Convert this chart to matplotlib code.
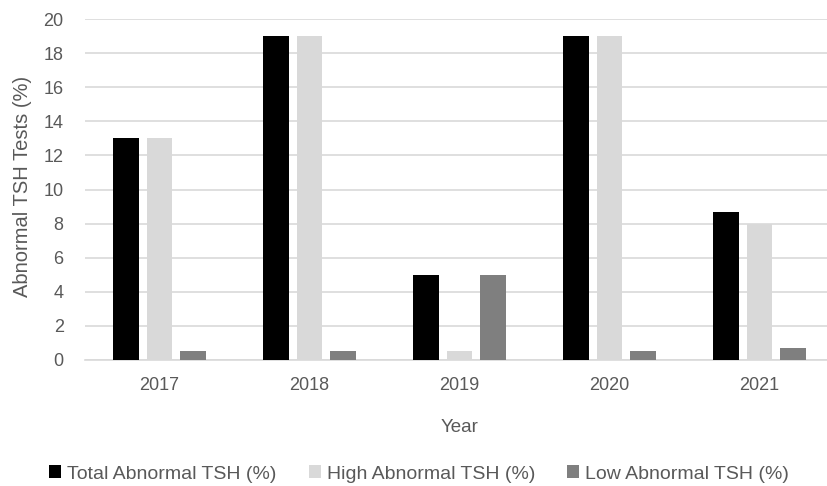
import matplotlib
matplotlib.use("Agg")
import matplotlib.pyplot as plt
import numpy as np

years = ["2017", "2018", "2019", "2020", "2021"]
total_abnormal = [13, 19, 5, 19, 8.7]
high_abnormal = [13, 19, 0.5, 19, 8.0]
low_abnormal = [0.5, 0.5, 5, 0.5, 0.7]
series_names = ["Total Abnormal TSH (%)", "High Abnormal TSH (%)", "Low Abnormal TSH (%)"]
colors = ["#000000", "#d9d9d9", "#7f7f7f"]
yticks = [0, 2, 4, 6, 8, 10, 12, 14, 16, 18, 20]

plt.rcParams['font.family'] = ['Liberation Sans', 'DejaVu Sans']
txt = "#595959"

fig = plt.figure(figsize=(8.27, 4.86), dpi=100)
ax = fig.add_axes([84.5 / 827, 1 - 360 / 486, 750 / 827, 341 / 486])

x = np.arange(len(years))
w = 0.173
step = 0.223
for i, (vals, name, c) in enumerate(zip([total_abnormal, high_abnormal, low_abnormal], series_names, colors)):
    ax.bar(x + (i - 1) * step, vals, width=w, color=c, label=name, zorder=3)

ax.set_xlim(-0.5, len(years) - 0.5)
ax.set_ylim(0, 20)
ax.set_yticks(yticks)
ax.set_xticks(x)
ax.set_xticklabels(years)
ax.tick_params(axis='both', length=0, colors=txt, labelsize=13)
ax.tick_params(axis='y', pad=15)
ax.tick_params(axis='x', pad=12)
ax.grid(axis='y', color="#d9d9d9", linewidth=1.2, zorder=0)
for s in ["top", "right", "left"]:
    ax.spines[s].set_visible(False)
ax.spines["bottom"].set_color("#d9d9d9")
ax.spines["bottom"].set_linewidth(1.2)

ax.set_ylabel("Abnormal TSH Tests (%)", color=txt, fontsize=14.5, labelpad=0)
ax.yaxis.set_label_coords(-(84.5 - 32) / 750, 0.51)
ax.set_xlabel("Year", color=txt, fontsize=13.5, labelpad=18)

fig.legend(loc="center", bbox_to_anchor=(419 / 827, 1 - 474 / 486), ncol=3, frameon=False,
           fontsize=14, labelcolor=txt, handlelength=0.62, handleheight=0.62,
           handletextpad=0.3, columnspacing=1.65)

fig.savefig("out.png", dpi=100)
